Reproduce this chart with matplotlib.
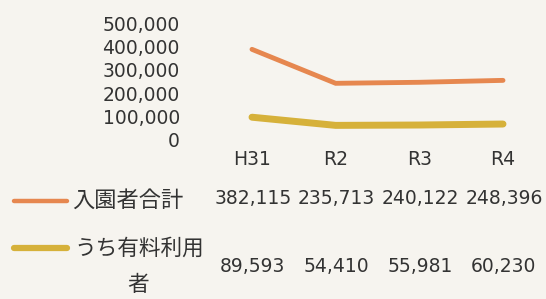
import matplotlib
matplotlib.use("Agg")
import matplotlib.pyplot as plt
from matplotlib.lines import Line2D
from matplotlib.transforms import blended_transform_factory, ScaledTranslation

plt.rcParams['font.family'] = ['DejaVu Sans', 'Noto Sans CJK JP']

categories = ["H31", "R2", "R3", "R4"]
series_names = ["入園者合計", "うち有料利用", "者"]
total_visitors = [382115, 235713, 240122, 248396]
paid_visitors = [89593, 54410, 55981, 60230]
y_ticks = [0, 100000, 200000, 300000, 400000, 500000]

W, H = 546, 299
fig = plt.figure(figsize=(W / 100, H / 100), dpi=100)
bg = "#f6f4ef"
fig.patch.set_facecolor(bg)

def fx(px):
    return px / W

def fy(py):
    return 1 - py / H

ax = fig.add_axes([fx(252), fy(138), fx(503) - fx(252), fy(22) - fy(138)])
ax.patch.set_alpha(0)
xs = list(range(len(categories)))

c_total = "#e6874f"
c_paid = "#d6b13a"
ax.plot(xs, total_visitors, color=c_total, lw=3.5, solid_capstyle="round",
        solid_joinstyle="miter", clip_on=False)
ax.plot(xs, paid_visitors, color=c_paid, lw=5.0, solid_capstyle="round", clip_on=False)

ax.set_xlim(0, 3)
ax.set_ylim(0, 500000)
ax.set_yticks(y_ticks)
ax.set_yticklabels([f"{v:,}" for v in y_ticks])
ax.set_xticks(xs)
ax.set_xticklabels(categories)
txtc = "#333333"
ax.tick_params(axis="y", length=0, pad=52, labelsize=13.5, labelcolor=txtc)
ax.tick_params(axis="x", length=0, pad=8.5, labelsize=13.5, labelcolor=txtc)
for lbl in ax.get_yticklabels():
    lbl.set_transform(lbl.get_transform() + ScaledTranslation(0, -1.5 / 100, fig.dpi_scale_trans))
for s in ax.spines.values():
    s.set_visible(False)

# data table below
tr = blended_transform_factory(ax.transData, fig.transFigure)
for i, (a, b) in enumerate(zip(total_visitors, paid_visitors)):
    ax.text(i + 0.01, fy(199), f"{a:,}", transform=tr, ha="center", va="center",
            fontsize=13.5, color=txtc)
    ax.text(i + 0.01, fy(266), f"{b:,}", transform=tr, ha="center", va="center",
            fontsize=13.5, color=txtc)

# legend keys
fig.add_artist(Line2D([fx(14), fx(67)], [fy(201), fy(201)], color=c_total, lw=3.2,
                      solid_capstyle="round", transform=fig.transFigure))
fig.add_artist(Line2D([fx(14), fx(67)], [fy(248), fy(248)], color=c_paid, lw=4.5,
                      solid_capstyle="round", transform=fig.transFigure))
cjk = ['Noto Sans CJK JP', 'DejaVu Sans']
fig.text(fx(72), fy(200), series_names[0], ha="left", va="center", fontsize=16,
         color=txtc, family=cjk)
fig.text(fx(74), fy(249), series_names[1], ha="left", va="center", fontsize=15.6,
         color=txtc, family=cjk)
fig.text(fx(138), fy(285), series_names[2], ha="center", va="center", fontsize=15.6,
         color=txtc, family=cjk)

fig.savefig("out.png", dpi=100, facecolor=bg)
